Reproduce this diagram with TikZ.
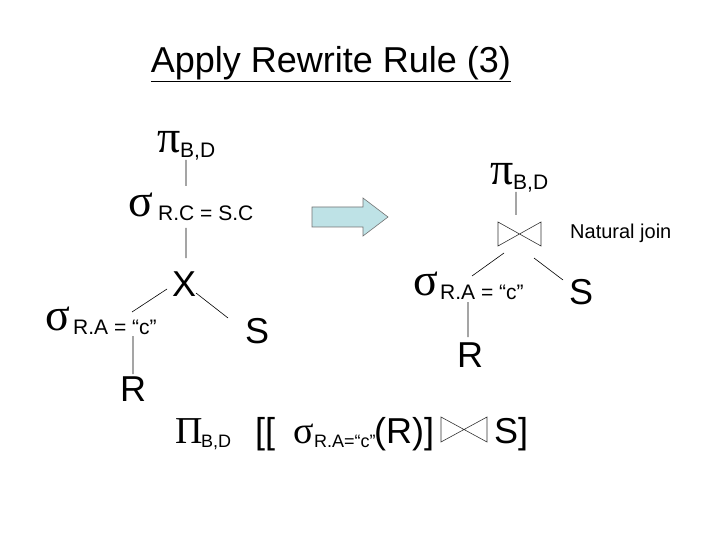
\documentclass[tikz,border=0pt]{standalone}
\usepackage{fontspec}
\setmainfont{Liberation Sans}
\newfontfamily\grk{Liberation Serif}
\begin{document}
\begin{tikzpicture}[x=1pt,y=-1pt,
  big/.style={inner sep=0pt,anchor=base west,font=\fontsize{36}{36}\selectfont},
  sub/.style={inner sep=0pt,anchor=base west,font=\fontsize{21}{21}\selectfont},
  smsub/.style={inner sep=0pt,anchor=base west,font=\fontsize{18}{18}\selectfont},
  gk/.style={inner sep=0pt,anchor=base west,font=\grk\fontsize{46}{46}\selectfont},
  smgk/.style={inner sep=0pt,anchor=base west,font=\grk\fontsize{38}{38}\selectfont},
  ln/.style={draw=black,line width=0.6pt},
  bt/.style={draw=black!80,line width=0.6pt}]
\useasboundingbox (0,0) rectangle (720,540);
\node[inner sep=0pt,font=\fontsize{36}{36}\selectfont] (title) at (331,64) {\underline{Apply Rewrite Rule (3)}};
% left tree
\node[gk] (p1) at (157,153) {π};
\node[sub] (p1s) at (180,158) {B,D};
\node[gk] (s1) at (128,217) {σ};
\node[sub] (s1s) at (158,221) {R.C = S.C};
\node[big] (x) at (172,296) {X};
\node[gk] (s2) at (45,330) {σ};
\node[sub] (s2s) at (73,334) {R.A = “c”};
\node[big] (S1) at (245,343) {S};
\node[big] (R1) at (120,401) {R};
\coordinate (a1) at (186,160); \coordinate (b1) at (186,186);
\coordinate (a2) at (186,228); \coordinate (b2) at (186,258);
\coordinate (a3) at (167,289); \coordinate (b3) at (132,312);
\coordinate (a4) at (196,293); \coordinate (b4) at (228,318);
\coordinate (a5) at (133,336); \coordinate (b5) at (133,374);
\draw[ln] (a1)--(b1) (a2)--(b2) (a3)--(b3) (a4)--(b4) (a5)--(b5);
% arrow
\draw[draw=black!55,fill={rgb,255:red,190;green,226;blue,230},line width=0.6pt]
  (312,207)--(363,207)--(363,198)--(388,217)--(363,236)--(363,227)--(312,227)--cycle;
% right tree
\node[gk] (p2) at (490,185) {π};
\node[sub] (p2s) at (513,190) {B,D};
\draw[bt] (498,222)--(498,246)--(541,222)--(541,246)--cycle;
\node[inner sep=0pt,anchor=base west,font=\fontsize{20}{20}\selectfont] (nj) at (570,238) {Natural join};
\node[gk] (s3) at (413,295) {σ};
\node[sub] (s3s) at (440,299) {R.A = “c”};
\node[big] (S2) at (569,304) {S};
\node[big] (R2) at (457,367) {R};
\coordinate (c1) at (516,192); \coordinate (d1) at (516,215);
\coordinate (c2) at (504,253); \coordinate (d2) at (472,276);
\coordinate (c3) at (534,258); \coordinate (d3) at (563,280);
\coordinate (c4) at (468,302); \coordinate (d4) at (468,337);
\draw[ln] (c1)--(d1) (c2)--(d2) (c3)--(d3) (c4)--(d4);
% bottom formula
\node[smgk] (P) at (175,443) {Π};
\node[smsub] (Ps) at (201,447) {B,D};
\node[big] (br) at (255,443) {[[};
\node[smgk] (s4) at (293,443) {σ};
\node[smsub] (s4s) at (314,447) {R.A=“c”};
\node[big] (rr) at (374,443) {(R)]};
\draw[bt] (441,417)--(441,442)--(487,417)--(487,442)--cycle;
\node[big] (sr) at (494,443) {S]};
\end{tikzpicture}
\end{document}
